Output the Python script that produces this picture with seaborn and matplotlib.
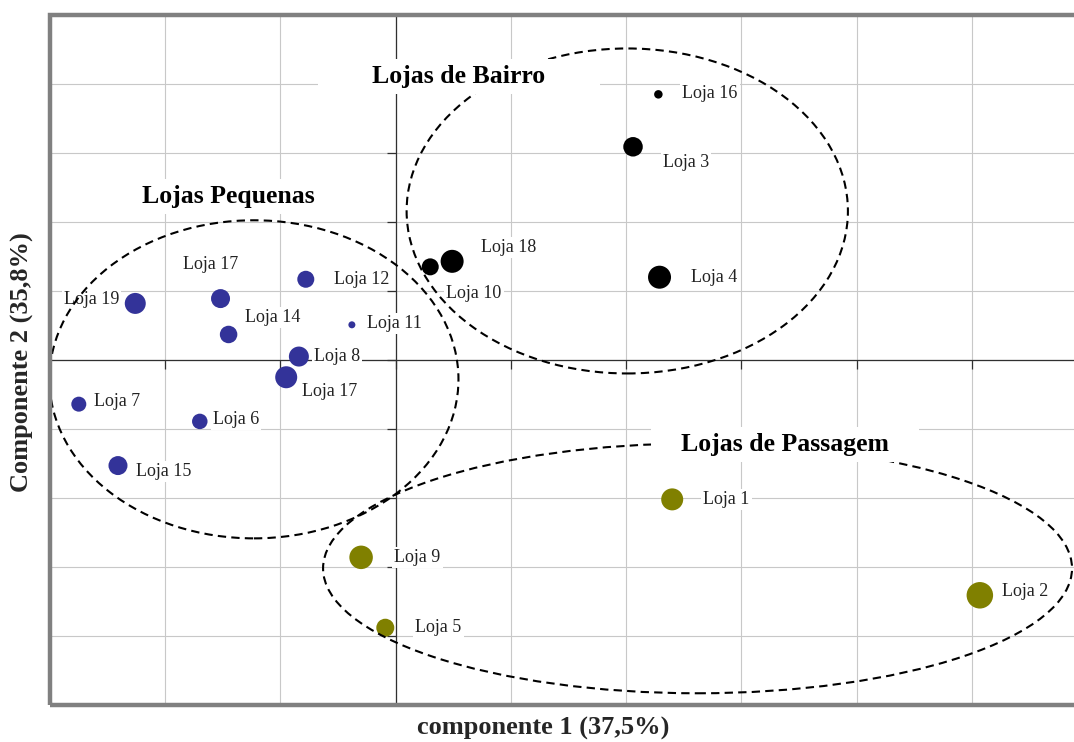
import matplotlib
matplotlib.use("Agg")
import matplotlib.pyplot as plt
import seaborn as sns
import pandas as pd
from matplotlib.patches import Ellipse, Rectangle
from matplotlib.transforms import IdentityTransform

# ---------------- data ----------------
lojas = ["Loja 1", "Loja 2", "Loja 3", "Loja 4", "Loja 5", "Loja 6", "Loja 7",
         "Loja 8", "Loja 9", "Loja 10", "Loja 11", "Loja 12", "Loja 14",
         "Loja 15", "Loja 16", "Loja 17", "Loja 17", "Loja 18", "Loja 19"]
comp1 = [2.40, 5.07, 2.06, 2.29, -0.09, -1.70, -2.75, -0.84, -0.30, 0.30,
         -0.38, -0.78, -1.45, -2.41, 2.28, -1.52, -0.95, 0.49, -2.26]
comp2 = [-2.02, -3.41, 3.09, 1.20, -3.88, -0.89, -0.64, 0.05, -2.86, 1.35,
         0.51, 1.17, 0.37, -1.53, 3.85, 0.89, -0.25, 1.43, 0.82]
grupo = ["Lojas de Passagem", "Lojas de Passagem", "Lojas de Bairro",
         "Lojas de Bairro", "Lojas de Passagem", "Lojas Pequenas",
         "Lojas Pequenas", "Lojas Pequenas", "Lojas de Passagem",
         "Lojas de Bairro", "Lojas Pequenas", "Lojas Pequenas",
         "Lojas Pequenas", "Lojas Pequenas", "Lojas de Bairro",
         "Lojas Pequenas", "Lojas Pequenas", "Lojas de Bairro",
         "Lojas Pequenas"]
peso = [22, 26.5, 19.5, 23, 18, 15.5, 15, 20, 23.5, 17, 7, 17, 17.5, 19,
        8.5, 19, 22, 23, 21]

grupos = ["Lojas de Bairro", "Lojas Pequenas", "Lojas de Passagem"]
grupo_cx = [2.01, -1.23, 2.62]
grupo_cy = [2.16, -0.28, -3.02]
grupo_w = [3.83, 3.55, 6.50]
grupo_h = [4.71, 4.61, 3.62]
titulo_x = [0.55, -1.45, 3.38]
titulo_y = [4.11, 2.37, -1.22]

xlabel = "componente 1 (37,5%)"
ylabel = "Componente 2 (35,8%)"

# ---------------- layout / style ----------------
cores = {"Lojas de Bairro": "#000000", "Lojas Pequenas": "#333399",
         "Lojas de Passagem": "#808000"}
# label offsets in pixels (dx, dy with y up) and alignment
offsets = [(31, 0, "left"), (22, 4, "left"), (30, -16, "left"), (31, 0, "left"),
           (30, 0, "left"), (13, 2, "left"), (15, 3, "left"), (15, 0, "left"),
           (33, 0, "left"), (16, -27, "left"), (15, 1, "left"), (28, 0, "left"),
           (16, 17, "left"), (18, -6, "left"), (24, 1, "left"),
           (-38, 34, "left"), (16, -14, "left"), (29, 14, "left"),
           (-16, 4, "right")]
title_pad = [(54, 6), (20, 6), (30, 6)]

sns.set_style("white")
plt.rcParams["font.family"] = ["Liberation Serif", "DejaVu Serif"]

W, H = 1074, 742
fig = plt.figure(figsize=(W / 100, H / 100), dpi=100)
ax = fig.add_axes([50 / W, 37 / H, 1037 / W, 690 / H])

df = pd.DataFrame({"x": comp1, "y": comp2, "grupo": grupo, "loja": lojas,
                   "area": [(0.72 * p) ** 2 for p in peso]})
amin, amax = df["area"].min(), df["area"].max()
sns.scatterplot(data=df, x="x", y="y", hue="grupo", palette=cores,
                size="area", sizes=(amin, amax), size_norm=(amin, amax),
                linewidth=0, legend=False, ax=ax, zorder=3.5)

ax.set_xlim(-3, 6)
ax.set_ylim(-5, 5)
ax.set_xticks(range(-3, 7))
ax.set_yticks(range(-5, 6))
ax.set_axisbelow(True)
ax.grid(True, color="#c8c8c8", lw=0.8)
ax.set_xlabel("")
ax.set_ylabel("")

for s in ["top", "right"]:
    ax.spines[s].set_visible(False)
ax.spines["left"].set_position(("data", 0))
ax.spines["bottom"].set_position(("data", 0))
for s in ["left", "bottom"]:
    ax.spines[s].set_color("#303030")
    ax.spines[s].set_linewidth(0.9)
    ax.spines[s].set_zorder(2.5)
ax.tick_params(axis="both", direction="out", length=6.5, width=0.9,
               color="#303030", labelbottom=False, labelleft=False,
               bottom=True, left=True)

frame = Rectangle((0, 0), 1, 1, transform=ax.transAxes, fill=False,
                  ec="#808080", lw=3.2, clip_on=False, zorder=10)
ax.add_patch(frame)

# point labels
for i, nome in enumerate(lojas):
    dx, dy, ha = offsets[i]
    ax.annotate(nome, (comp1[i], comp2[i]), xytext=(dx, dy),
                textcoords="offset pixels", ha=ha, va="center",
                fontsize=13, color="#222222", zorder=3,
                bbox=dict(boxstyle="square,pad=0.12", fc="white", ec="none"))

# ellipses
for i in range(len(grupos)):
    e = Ellipse((grupo_cx[i], grupo_cy[i]), grupo_w[i], grupo_h[i],
                fill=False, ec="black", lw=1.5, ls=(0, (4, 2.5)), zorder=4)
    ax.add_patch(e)

# group titles
titulos = []
for i, g in enumerate(grupos):
    t = ax.text(titulo_x[i], titulo_y[i], g, ha="center", va="center",
                fontsize=18.5, fontweight="bold", color="black", zorder=6)
    titulos.append(t)

fig.canvas.draw()
for i, t in enumerate(titulos):
    bb = t.get_window_extent()
    px, py = title_pad[i]
    r = Rectangle((bb.x0 - px, bb.y0 - py), bb.width + 2 * px,
                  bb.height + 2 * py, transform=IdentityTransform(),
                  fc="white", ec="none", zorder=5)
    ax.add_artist(r)

fig.text(543 / W, 1 - 728 / H, xlabel, ha="center", va="center",
         fontsize=19, fontweight="bold")
fig.text(22 / W, 1 - 362 / H, ylabel, ha="center", va="center",
         rotation=90, fontsize=19, fontweight="bold")

fig.savefig("out.png", dpi=100)
